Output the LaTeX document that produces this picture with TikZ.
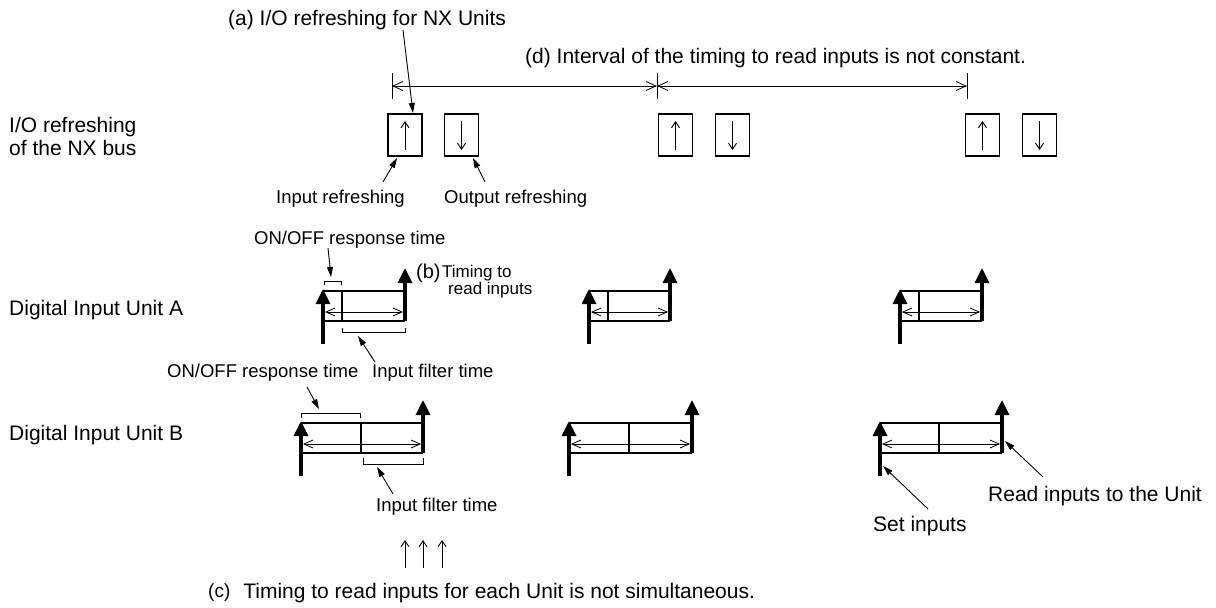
\documentclass[tikz,border=0pt]{standalone}
\usepackage{fontspec}
\setmainfont{Liberation Sans}
\usetikzlibrary{arrows.meta}
\newcommand{\DrawUnit}[5]{%
  \coordinate (#1tl) at (#2,#5);
  \coordinate (#1tr) at (#4,#5);
  \coordinate (#1bl) at (#2,#5+30);
  \coordinate (#1br) at (#4,#5+30);
  \coordinate (#1dt) at (#3,#5);
  \coordinate (#1db) at (#3,#5+30);
  \coordinate (#1set) at (#2,#5+53);
  \coordinate (#1lt) at (#2,#5-2);
  \coordinate (#1read) at (#4,#5-23);
  \coordinate (#1al) at (#2+2,#5+21);
  \coordinate (#1ar) at (#4-2,#5+21);
  \draw[boxline] (#1tl) -- (#1tr);
  \draw[boxline] (#1bl) -- (#1br);
  \draw[boxline] (#1dt) -- (#1db);
  \draw[innerarrow] (#1al) -- (#1ar);
  \draw[sigarrow] (#1set) -- (#1lt);
  \draw[sigarrow] (#1br) -- (#1read);
}
\begin{document}
\begin{tikzpicture}[x=1pt,y=-1pt,
  big/.style={font=\fontsize{21}{23}\selectfont, inner sep=0pt, anchor=base west},
  small/.style={font=\fontsize{18.5}{20}\selectfont, inner sep=0pt, anchor=base west},
  tiny/.style={font=\fontsize{17}{17}\selectfont, inner sep=0pt, align=left, anchor=base west},
  iobox/.style={draw, line width=1.2pt, minimum width=34pt, minimum height=42pt, inner sep=0pt},
  ioarrow/.style={line width=0.9pt, -{Straight Barb[length=6pt,width=8pt]}},
  dimline/.style={line width=0.8pt, {Straight Barb[length=10pt,width=9pt]}-{Straight Barb[length=10pt,width=9pt]}},
  innerarrow/.style={line width=0.8pt, {Straight Barb[length=9pt,width=8pt]}-{Straight Barb[length=9pt,width=8pt]}},
  dimtick/.style={line width=0.8pt},
  callout/.style={line width=0.9pt, -{Triangle[length=10pt,width=6pt]}},
  sigarrow/.style={line width=3.3pt, -{Triangle[length=15pt,width=14pt]}},
  boxline/.style={line width=2pt},
  bracket/.style={line width=1pt},
]
\useasboundingbox (0,0) rectangle (1216,608);

% ---------- texts ----------
\node[big] (ta) at (228,25) {(a) I/O refreshing for NX Units};
\node[big] (td) at (525,63) {(d) Interval of the timing to read inputs is not constant.};
\node[big] (tio1) at (9,132) {I/O refreshing};
\node[big] (tio2) at (9,155) {of the NX bus};
\node[big] (tA) at (9,315) {Digital Input Unit A};
\node[big] (tB) at (9,440) {Digital Input Unit B};
\node[small] (lin) at (276,203) {Input refreshing};
\node[small] (lout) at (444,203) {Output refreshing};
\node[small] (lonA) at (254,244) {ON/OFF response time};
\node[font=\fontsize{20}{22}\selectfont, inner sep=0pt, anchor=base west] (lb) at (416,278) {(b)};
\node[tiny] (lbt) at (442,294) {Timing to\\\hspace*{6pt}read inputs};
\node[small] (lfA) at (372,377) {Input filter time};
\node[small] (lonB) at (167,377) {ON/OFF response time};
\node[small] (lfB) at (376,511) {Input filter time};
\node[big] (lc) at (208,598) {\raisebox{1pt}{\fontsize{19}{20}\selectfont(c)}\hspace{13pt}Timing to read inputs for each Unit is not simultaneous.};
\node[big] (lset) at (873,531) {Set inputs};
\node[big] (lread) at (988,501) {Read inputs to the Unit};

% ---------- I/O refreshing boxes ----------
\node[iobox] (in1) at (405,135) {};
\node[iobox] (out1) at (461.5,135) {};
\node[iobox] (in2) at (675.5,135) {};
\node[iobox] (out2) at (732.5,135) {};
\node[iobox] (in3) at (982.5,135) {};
\node[iobox] (out3) at (1039.5,135) {};
\foreach \b in {in1,in2,in3}{
  \draw[ioarrow] ([yshift=-15pt]\b.center) -- ([yshift=14pt]\b.center);
}
\foreach \b in {out1,out2,out3}{
  \draw[ioarrow] ([yshift=14pt]\b.center) -- ([yshift=-15pt]\b.center);
}

% ---------- dimension line (d) ----------
\coordinate (d1) at (392,86);
\coordinate (d2) at (657,86);
\coordinate (d3) at (967,86);
\foreach \d in {d1,d2,d3}{
  \draw[dimtick] ([yshift=13pt]\d) -- ([yshift=-13pt]\d);
}
\draw[dimline] (d1) -- (d2);
\draw[dimline] (d2) -- (d3);

% ---------- callouts at top ----------
\coordinate (ca1) at (403,30);
\coordinate (ca2) at (413,113);
\draw[callout] (ca1) -- (ca2);
\coordinate (ci1) at (383,182);
\coordinate (ci2) at (397,158);
\draw[callout] (ci1) -- (ci2);
\coordinate (co1) at (485,182);
\coordinate (co2) at (473,158);
\draw[callout] (co1) -- (co2);

% ---------- units ----------
\DrawUnit{A1}{323}{342}{405}{291}
\DrawUnit{A2}{589}{608}{670}{291}
\DrawUnit{A3}{900}{919}{982}{291}
\DrawUnit{B1}{301}{361}{423}{423}
\DrawUnit{B2}{569}{629}{692}{423}
\DrawUnit{B3}{880}{939}{1002}{423}

% ---------- brackets ----------
\draw[bracket] (324,285) -- (324,281) -- (341,281) -- (341,285);
\draw[bracket] (342,328) -- (342,332) -- (405,332) -- (405,328);
\draw[bracket] (301,418) -- (301,413) -- (360,413) -- (360,418);
\draw[bracket] (363,458) -- (363,464) -- (423,464) -- (423,458);

\coordinate (cnA1) at (328,248);
\coordinate (cnA2) at (331,277);
\draw[callout] (cnA1) -- (cnA2);
\coordinate (cfA1) at (375,362);
\coordinate (cfA2) at (358,336);
\draw[callout] (cfA1) -- (cfA2);
\coordinate (cnB1) at (307,387);
\coordinate (cnB2) at (319,409);
\draw[callout] (cnB1) -- (cnB2);
\coordinate (cfB1) at (393,494);
\coordinate (cfB2) at (377,467);
\draw[callout] (cfB1) -- (cfB2);

% ---------- set / read callouts ----------
\coordinate (cs1) at (928,509);
\coordinate (cs2) at (883,466);
\draw[callout] (cs1) -- (cs2);
\coordinate (cr1) at (1043,477);
\coordinate (cr2) at (1005,441);
\draw[callout] (cr1) -- (cr2);

% ---------- three arrows (c) ----------
\foreach \x in {405,423,442}{
  \coordinate (up\x a) at (\x,568);
  \coordinate (up\x b) at (\x,540);
  \draw[ioarrow] (up\x a) -- (up\x b);
}
\end{tikzpicture}
\end{document}
